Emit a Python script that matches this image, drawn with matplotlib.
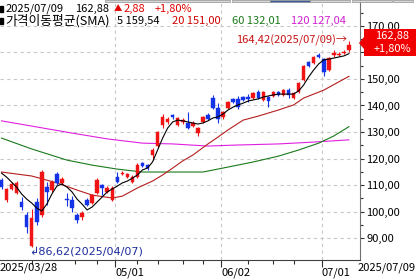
import numpy as np
import matplotlib
matplotlib.use('Agg')
import matplotlib.pyplot as plt
from matplotlib.patches import Polygon, Rectangle
from matplotlib.ticker import FuncFormatter

plt.rcParams['font.family'] = ['Noto Sans CJK KR', 'DejaVu Sans']

# 일봉 데이터 (2025/03/28 ~ 2025/07/09)
opens = [111.9, 104.3, 108.5, 107.0, 103.6, 98.7, 86.9, 103.6, 98.7, 109.2,
         108.1, 114.2, 110.8, 104.7, 104.3, 98.7, 97.9, 104.3, 103.2, 107.0,
         110.0, 107.4, 104.3, 113.0, 114.2, 113.0, 111.1, 113.0, 118.3, 117.5,
         121.3, 124.7, 132.6, 133.8, 136.4, 132.6, 133.8, 133.4, 132.3, 129.6,
         133.8, 136.4, 142.8, 139.1, 135.7, 139.1, 142.5, 142.5, 143.2, 143.2,
         142.8, 145.1, 142.1, 143.2, 143.6, 145.1, 144.0, 145.8, 142.8, 145.1,
         149.6, 156.4, 156.0, 159.1, 157.5, 153.4, 159.1, 159.1, 159.8, 161.0]
highs = [112.5, 109.0, 111.0, 111.5, 105.5, 99.8, 101.0, 105.1, 115.7, 111.1,
         111.8, 115.0, 113.0, 106.8, 105.8, 99.4, 100.2, 105.0, 106.6, 112.6,
         110.4, 109.6, 109.6, 114.9, 115.3, 114.6, 113.8, 118.3, 118.7, 118.0,
         124.0, 130.4, 136.8, 135.5, 136.8, 135.7, 135.3, 137.5, 134.0, 131.9,
         136.0, 137.0, 143.8, 140.9, 138.0, 141.7, 143.0, 143.5, 143.6, 144.4,
         145.1, 146.0, 145.5, 143.6, 145.5, 145.5, 146.2, 146.6, 145.1, 148.9,
         155.3, 156.8, 158.7, 159.8, 158.0, 158.3, 160.9, 160.2, 160.9, 164.42]
lows = [108.5, 103.6, 108.0, 106.5, 100.6, 91.9, 86.62, 95.0, 98.0, 102.5,
        107.5, 110.0, 110.3, 102.0, 99.8, 95.7, 96.8, 101.9, 102.8, 106.6,
        106.2, 107.0, 103.9, 110.7, 113.8, 112.6, 110.7, 112.6, 116.8, 115.7,
        119.4, 124.3, 131.5, 133.0, 135.0, 132.2, 133.0, 131.1, 131.9, 128.5,
        133.4, 134.5, 138.5, 133.4, 135.0, 138.7, 140.9, 138.7, 141.7, 141.3,
        142.5, 142.5, 141.7, 139.6, 143.2, 143.6, 143.6, 142.8, 142.5, 144.7,
        149.2, 154.5, 155.6, 158.0, 151.0, 153.0, 158.3, 158.7, 159.5, 160.2]
closes = [109.2, 108.5, 110.4, 110.8, 101.7, 94.2, 97.5, 96.0, 114.9, 107.4,
          111.1, 110.8, 112.3, 104.3, 101.3, 96.8, 99.4, 102.5, 106.2, 111.9,
          108.9, 108.9, 108.9, 111.1, 114.5, 114.2, 113.0, 117.5, 117.2, 116.4,
          123.2, 130.0, 135.7, 134.9, 135.7, 135.3, 134.5, 131.5, 133.4, 131.5,
          135.7, 134.9, 139.1, 134.9, 137.5, 141.3, 141.3, 139.4, 142.1, 142.5,
          144.7, 142.8, 145.1, 141.7, 145.1, 144.0, 145.8, 144.0, 144.7, 148.5,
          154.9, 154.9, 158.3, 158.3, 152.6, 157.9, 159.8, 159.5, 160.0, 162.88]

# 이동평균선
ma5 = [114.5, 113.0, 111.1, 109.2, 106.6, 104.7, 103.2, 101.3, 100.2, 102.8,
       106.6, 109.6, 110.4, 109.2, 107.4, 104.7, 102.8, 100.6, 101.7, 103.6,
       105.5, 107.4, 108.5, 109.6, 110.8, 111.5, 112.6, 113.8, 115.7, 116.4,
       118.7, 123.2, 127.7, 131.5, 133.8, 134.5, 134.2, 133.8, 133.4, 133.0,
       133.4, 134.2, 135.3, 135.7, 136.8, 138.3, 139.4, 140.2, 140.9, 141.7,
       142.1, 142.5, 143.2, 143.6, 144.0, 144.3, 144.3, 144.3, 144.3, 145.5,
       147.7, 150.8, 153.4, 155.7, 157.2, 157.5, 157.9, 158.3, 158.7, 159.54]
ma20_idx = [0, 6, 11, 15, 18, 22, 24, 27, 30, 32, 34, 36, 38, 41, 43, 45, 48, 51, 55, 58, 60, 64, 69]
ma20 = [114.9, 113.4, 110.8, 108.1, 106.2, 105.1, 105.8, 108.9, 111.5, 113.8, 116.4, 119.1,
        121.3, 125.5, 128.1, 130.8, 134.5, 136.0, 138.3, 140.2, 142.8, 145.8, 151.0]
ma60_idx = [0, 6, 13, 18, 23, 28, 40, 44, 50, 55, 59, 63, 66, 69]
ma60 = [127.7, 123.6, 119.4, 117.5, 116.0, 114.9, 114.9, 116.4, 118.7, 120.9, 123.2, 125.8, 128.5, 132.01]
ma120_idx = [0, 7, 14, 21, 28, 34, 41, 47, 55, 62, 69]
ma120 = [134.2, 131.9, 129.6, 127.4, 125.8, 125.5, 124.7, 125.1, 125.5, 126.2, 127.04]

date_labels = ['05/01', '06/02', '07/01']
date_idx = [23, 44, 64]
minor_idx = [6, 14.5, 19, 27, 31, 36, 40, 49, 54, 58]

UP = '#f01414'
DOWN = '#1432e6'
W, H = 416, 280


def px(x, y):
    return x / W, 1 - y / H


def fmt(v):
    return f'{v:.2f}'.replace('.', ',')


fig = plt.figure(figsize=(W / 100, H / 100), dpi=100)
ax = fig.add_axes([0, 20.5 / H, 360 / W, 259.5 / H])
ax.set_xlim(-0.3, 71.2)
ax.set_ylim(81.9, 179.8)

# 그리드
for v in range(90, 180, 10):
    ax.axhline(v, color='#c8c8c8', lw=0.8, ls=(0, (3, 3)), zorder=0)
for i in date_idx:
    ax.axvline(i - 0.4, color='#c8c8c8', lw=0.8, ls=(0, (3, 3)), zorder=0)

# 이동평균선
idx = np.arange(len(closes))
ax.plot(ma120_idx, ma120, color='#e020e0', lw=0.8, zorder=2)
ax.plot(ma60_idx, ma60, color='#1a7a1a', lw=0.8, zorder=2)
ax.plot(ma20_idx, ma20, color='#b41e1e', lw=0.8, zorder=2)

# 캔들
o = np.array(opens)
c = np.array(closes)
colors = [UP if cc >= oo else DOWN for oo, cc in zip(o, c)]
ax.vlines(idx, lows, highs, colors=colors, lw=0.8, zorder=3)
bottom = np.minimum(o, c)
height = np.maximum(np.abs(c - o), 0.4)
ax.bar(idx, height, bottom=bottom, width=0.7, color=colors, edgecolor=colors, lw=0.3, zorder=4)

ax.plot(idx, ma5, color='black', lw=0.8, zorder=5)

# 축
for s in ['top', 'left']:
    ax.spines[s].set_visible(False)
ax.spines['right'].set_color('#707070')
ax.spines['bottom'].set_color('#404040')
ax.yaxis.tick_right()
ax.set_yticks(range(90, 180, 10))
ax.set_yticks(range(95, 180, 10), minor=True)
# 160 눈금 글자는 현재가 박스에 가려짐
ax.yaxis.set_major_formatter(FuncFormatter(lambda v, p: '' if round(v) == 160 else fmt(v)))
ax.tick_params(axis='y', which='major', length=3, width=0.8, pad=1.5, labelsize=8, colors='#303030')
ax.tick_params(axis='y', which='minor', length=2, width=0.8, colors='#303030')
ax.set_xticks([i - 0.4 for i in date_idx])
ax.set_xticklabels(date_labels, ha='left')
ax.set_xticks(minor_idx, minor=True)
ax.tick_params(axis='x', which='major', length=5, width=0.8, pad=1, labelsize=8, colors='#303030')
ax.tick_params(axis='x', which='minor', length=3, width=0.8, colors='#303030')
for lab in ax.get_xticklabels():
    lab.set_color('black')
for lab in ax.get_yticklabels():
    lab.set_color('black')
fig.text(*px(0, 268), '2025/03/28', fontsize=8, ha='left', va='center')
fig.text(*px(416, 268), '2025/07/09', fontsize=8, ha='right', va='center')

# 상단 탭
for x0, x1, col in [(105, 230, '#d8d8d8'), (232, 270, '#d8d8d8'), (270, 310, '#3a5a9a'),
                    (310, 350, '#d8d8d8'), (352, 392, '#d8d8d8'), (393, 413, '#d8d8d8')]:
    fig.patches.append(Rectangle(px(x0, 2), (x1 - x0) / W, 2 / H, transform=fig.transFigure,
                                 facecolor=col, edgecolor='#909090', lw=0.5))

# 헤더
fig.patches.append(Rectangle(px(0, 12), 3 / W, 6 / H, transform=fig.transFigure, color='black'))
fig.patches.append(Rectangle(px(0, 24), 3 / W, 6 / H, transform=fig.transFigure, color='black'))
fig.text(*px(6, 9), '2025/07/09', fontsize=8, va='center')
fig.text(*px(75, 9), fmt(closes[-1]), fontsize=8, va='center')
fig.text(*px(114, 9), '▲', fontsize=6, va='center', color='#e00000')
fig.text(*px(124, 9), fmt(closes[-1] - closes[-2]), fontsize=8, va='center', color='#e00000')
fig.text(*px(155, 9), '+' + fmt((closes[-1] / closes[-2] - 1) * 100) + '%', fontsize=8, va='center', color='#e00000')
fig.text(*px(5, 21), '가격이동평균(SMA)', fontsize=9.2, va='center')
fig.text(*px(117, 21), '5 ' + fmt(ma5[-1]), fontsize=8, va='center')
fig.text(*px(172, 21), '20 ' + fmt(ma20[-1]), fontsize=8, va='center', color='#d00000')
fig.text(*px(232, 21), '60 ' + fmt(ma60[-1]), fontsize=8, va='center', color='#1a7a1a')
fig.text(*px(291, 21), '120 ' + fmt(ma120[-1]), fontsize=8, va='center', color='#d020d0')

# 최고/최저 표시
hi = int(np.argmax(highs))
lo = int(np.argmin(lows))
ax.annotate(fmt(highs[hi]) + '(2025/07/09)→', (hi, highs[hi]), xytext=(-1, 0),
            textcoords='offset points', ha='right', va='center', fontsize=8, color='#c81414')
ax.annotate('↲' + fmt(lows[lo]) + '(2025/04/07)', (lo, lows[lo]), xytext=(-2, -3.5),
            textcoords='offset points', ha='left', va='center', fontsize=8, color='#1c2d9c',
            family=['DejaVu Sans'])

# 현재가 박스
box = [px(359, 43), px(364, 37), px(364, 29), px(416, 29), px(416, 56), px(364, 56), px(364, 49)]
fig.patches.append(Polygon(box, closed=True, transform=fig.transFigure, facecolor='#f00000', edgecolor='none'))
fig.text(*px(392, 36), fmt(closes[-1]), fontsize=8, ha='center', va='center', color='white')
fig.text(*px(392, 49), '+' + fmt((closes[-1] / closes[-2] - 1) * 100) + '%', fontsize=8,
         ha='center', va='center', color='white')

fig.savefig('out.png', dpi=100)
